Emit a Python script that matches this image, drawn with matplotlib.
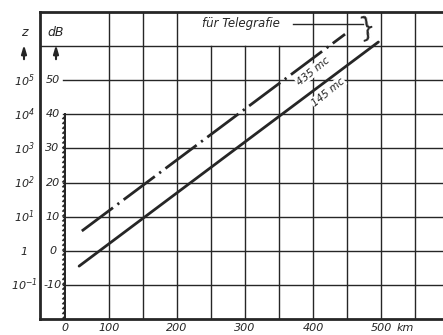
import matplotlib.pyplot as plt
import matplotlib.patheffects as pe

plt.rcParams['font.family'] = 'DejaVu Sans'
plt.rcParams['font.style'] = 'italic'
plt.rcParams['mathtext.default'] = 'it'

# Funkfeld-Dämpfung ueber Entfernung (km -> dB)
dist_145 = [56, 496]
db_145 = [-4.5, 61.2]
dist_435 = [60, 447]
db_435 = [5.8, 63.5]

km_ticks = [35, 100, 200, 300, 400, 500]
km_labels = ['0', '100', '200', '300', '400', '500']
db_ticks = [50, 40, 30, 20, 10, 0, -10]
db_labels = ['50', '40', '30', '20', '10', '0', '-10']
z_labels = ['$10^5$', '$10^4$', '$10^3$', '$10^2$', '$10^1$', '$1$', '$10^{-1}$']

ink = '#262626'
W, H = 443, 335

fig = plt.figure(figsize=(W / 100, H / 100), dpi=100)
fig.patch.set_facecolor('white')
ax = fig.add_axes([40 / W, 16 / H, 1 - 40 / W, (319 - 12) / H])
ax.set_xlim(-1.5, 591)
ax.set_ylim(-20, 70)

for s in ['left', 'top', 'bottom']:
    ax.spines[s].set_linewidth(2.0)
    ax.spines[s].set_color(ink)
ax.spines['right'].set_visible(False)

# grid
for x in range(100, 600, 50):
    top = 60 if 250 <= x <= 350 else 70
    ax.plot([x, x], [-20, top], color=ink, lw=1.0, zorder=1)
ax.plot([-1.5, 591], [60, 60], color=ink, lw=1.0, zorder=1)
for y in [50, 40, 30, 20, 10, 0, -10]:
    ax.plot([33, 591], [y, y], color=ink, lw=1.0, zorder=1)

# hatched dB axis
ax.plot([35, 35], [-20, 40], color=ink, lw=1.3, zorder=2,
        path_effects=[pe.withTickedStroke(spacing=3.5, angle=135, length=0.5), pe.Normal()])

# curves
ax.plot(dist_145, db_145, color=ink, lw=2.0, solid_capstyle='round', zorder=3)
ax.plot(dist_435, db_435, color=ink, lw=2.0, dashes=(14, 2, 0.8, 2), zorder=3)

box = dict(facecolor='white', edgecolor='none', pad=0.5)
ax.text(400, 52.7, '435 mc', rotation=39, fontsize=7.5, color=ink,
        ha='center', va='center', bbox=box, zorder=4)
ax.text(422, 46.5, '145 mc', rotation=39, fontsize=7.5, color=ink,
        ha='center', va='center', bbox=box, zorder=4)

# Telegrafie annotation
ax.text(294, 66.5, 'für Telegrafie', fontsize=8.5, color=ink, ha='center', va='center')
ax.plot([370, 473], [66.4, 66.4], color=ink, lw=1.0)
ax.text(481, 65.4, '}', fontsize=19, color=ink, ha='center', va='center',
        rotation=18, fontweight='light')

# x labels
ax.set_xticks([])
ax.set_yticks([])
for x, lab in zip(km_ticks, km_labels):
    ax.text(x, -21.3, lab, fontsize=8, color=ink, ha='center', va='top', clip_on=False)
ax.text(523, -21.3, 'km', fontsize=8, color=ink, ha='left', va='top', clip_on=False)

# y labels
for y, lab, zl in zip(db_ticks, db_labels, z_labels):
    ax.text(17, y, lab, fontsize=8, color=ink, ha='center', va='center',
            bbox=dict(facecolor='white', edgecolor='none', pad=0.3), zorder=5)
    fig.text(24 / W, (ax.transData.transform((0, y))[1]) / fig.dpi / fig.get_figheight(),
             zl, fontsize=8, color=ink, ha='center', va='center')

# axis names with arrows
fig.text(24 / W, 1 - 32 / H, 'z', fontsize=9, color=ink, ha='center', va='center')
fig.text(56 / W, 1 - 32 / H, 'dB', fontsize=9, color=ink, ha='center', va='center')
for xp in [24, 56]:
    ax.annotate('', xy=(xp, H - 42), xytext=(xp, H - 62), xycoords='figure pixels',
                textcoords='figure pixels',
                arrowprops=dict(arrowstyle='-|>,head_length=0.5,head_width=0.15',
                                color=ink, lw=1.5))

fig.savefig('out.png', dpi=100, facecolor=fig.get_facecolor())
